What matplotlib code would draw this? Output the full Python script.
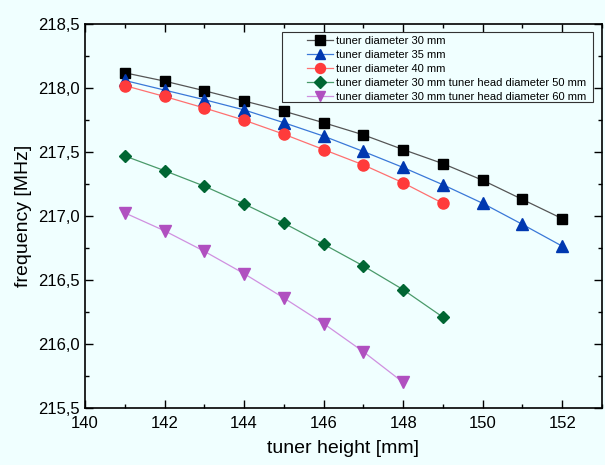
import matplotlib
matplotlib.use("Agg")
import matplotlib.pyplot as plt
from matplotlib.ticker import MultipleLocator, FuncFormatter
from matplotlib.patches import Rectangle

plt.rcParams['font.family'] = ['Liberation Sans', 'DejaVu Sans']

height_30 = [141, 142, 143, 144, 145, 146, 147, 148, 149, 150, 151, 152]
freq_30 = [218.12, 218.055, 217.98, 217.90, 217.82, 217.73, 217.635, 217.52, 217.41, 217.28, 217.13, 216.98]

height_35 = [141, 142, 143, 144, 145, 146, 147, 148, 149, 150, 151, 152]
freq_35 = [218.06, 217.985, 217.91, 217.83, 217.73, 217.625, 217.505, 217.38, 217.245, 217.10, 216.935, 216.765]

height_40 = [141, 142, 143, 144, 145, 146, 147, 148, 149]
freq_40 = [218.02, 217.935, 217.845, 217.75, 217.64, 217.52, 217.40, 217.26, 217.10]

height_h50 = [141, 142, 143, 144, 145, 146, 147, 148, 149]
freq_h50 = [217.47, 217.355, 217.234, 217.095, 216.945, 216.78, 216.61, 216.425, 216.21]

height_h60 = [141, 142, 143, 144, 145, 146, 147, 148]
freq_h60 = [217.025, 216.885, 216.725, 216.55, 216.36, 216.16, 215.94, 215.70]

labels = [
    "tuner diameter 30 mm",
    "tuner diameter 35 mm",
    "tuner diameter 40 mm",
    "tuner diameter 30 mm tuner head diameter 50 mm",
    "tuner diameter 30 mm tuner head diameter 60 mm",
]

W, H = 605, 465
bg = '#F0FFFF'
fig = plt.figure(figsize=(W / 100, H / 100), dpi=100, facecolor=bg)
ax = fig.add_axes([0.1405, 0.1226, 0.8545, 0.8254])
ax.set_facecolor(bg)

series = [
    (height_30, freq_30, 's', '#000000', '#555555', 7.5),
    (height_35, freq_35, '^', '#0038B0', '#3A78D8', 8.5),
    (height_40, freq_40, 'o', '#FF3B3B', '#FF7070', 8),
    (height_h50, freq_h50, 'D', '#006633', '#4A9A6A', 6.5),
    (height_h60, freq_h60, 'v', '#B050C0', '#D090E0', 8.5),
]
for (x, y, m, mc, lc, ms), lab in zip(series, labels):
    ax.plot(x, y, color=lc, lw=0.9, marker=m, markersize=ms,
            markerfacecolor=mc, markeredgecolor=mc, label=lab)

ax.set_xlim(140, 153)
ax.set_ylim(215.5, 218.5)
ax.xaxis.set_major_locator(MultipleLocator(2))
ax.xaxis.set_minor_locator(MultipleLocator(1))
ax.yaxis.set_major_locator(MultipleLocator(0.5))
ax.yaxis.set_minor_locator(MultipleLocator(0.25))
ax.yaxis.set_major_formatter(FuncFormatter(lambda v, p: f"{v:.1f}".replace('.', ',')))
ax.xaxis.set_major_formatter(FuncFormatter(lambda v, p: f"{v:.0f}" if v <= 152 else ""))

ax.tick_params(which='both', direction='in', top=True, right=True, labelsize=12, width=1)
ax.tick_params(which='major', length=6)
ax.tick_params(which='minor', length=3)
ax.tick_params(axis='x', pad=6)
for s in ax.spines.values():
    s.set_linewidth(1.2)

ax.set_xlabel("tuner height [mm]", fontsize=14, labelpad=6)
ax.set_ylabel("frequency [MHz]", fontsize=14, labelpad=5)

leg = ax.legend(loc='upper left', bbox_to_anchor=(307 / W, 1 - 36 / H),
                bbox_transform=fig.transFigure, fontsize=8,
                frameon=False, handlelength=2.3, handletextpad=0.35,
                borderpad=0, borderaxespad=0, labelspacing=0.35, markerscale=0.9)

frame = Rectangle((282 / W, 1 - 102.3 / H), (593 - 282) / W, (102.3 - 31.7) / H,
                  transform=fig.transFigure, facecolor='none', edgecolor='#333333',
                  linewidth=0.8, zorder=10)
fig.patches.append(frame)

fig.savefig("out.png", dpi=100, facecolor=bg)
